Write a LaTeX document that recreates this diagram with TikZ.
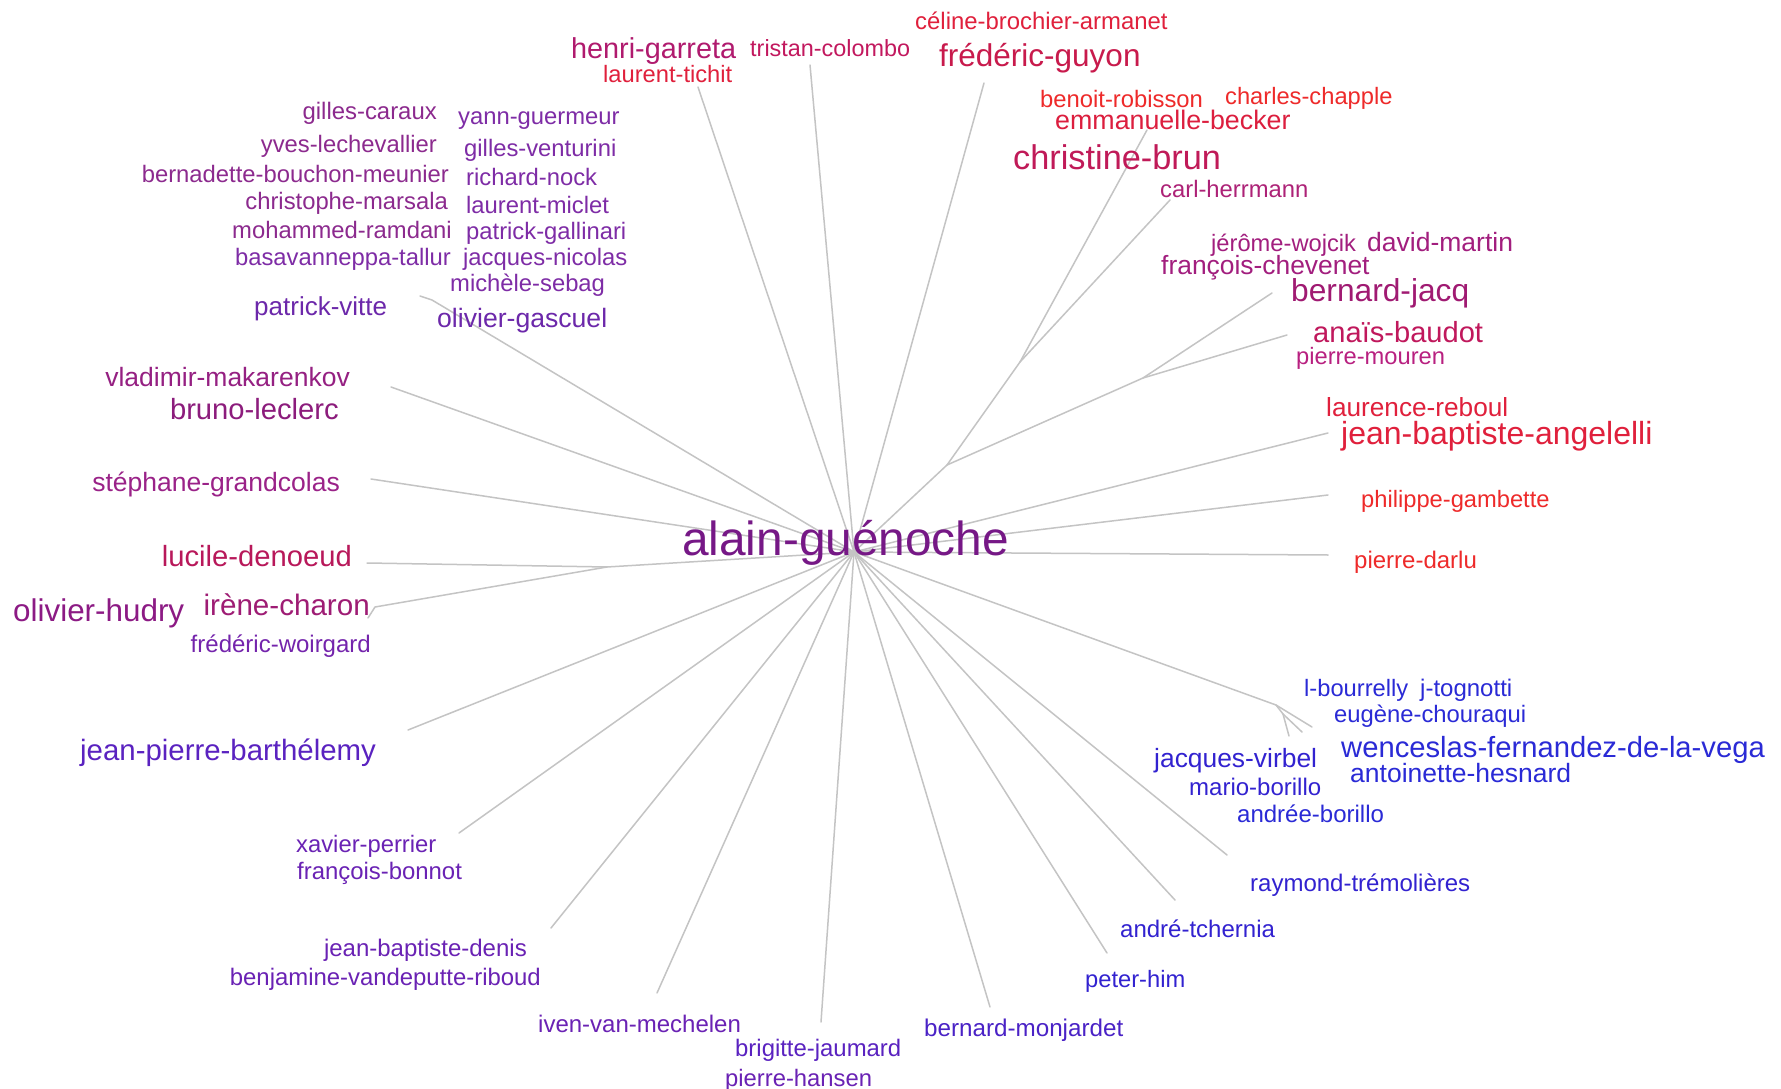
\documentclass[tikz,border=0pt]{standalone}
\usepackage{fontspec}
\setmainfont{Liberation Sans}
% label colours, from red (top right) through purple to blue (bottom right)
\definecolor{edgegray}{HTML}{C4C4C4}
\definecolor{cAlain}{HTML}{761886}
\definecolor{cGarreta}{HTML}{B01A6E}
\definecolor{cRed}{HTML}{E0203C}
\definecolor{cRedB}{HTML}{EE2A2A}
\definecolor{cTristan}{HTML}{C2185E}
\definecolor{cGuyon}{HTML}{C81A4C}
\definecolor{cBecker}{HTML}{DC1E3E}
\definecolor{cBrun}{HTML}{C01A58}
\definecolor{cHerrmann}{HTML}{AD2277}
\definecolor{cWojcik}{HTML}{A21E7E}
\definecolor{cJacq}{HTML}{A01A72}
\definecolor{cBaudot}{HTML}{C0185C}
\definecolor{cMouren}{HTML}{B82080}
\definecolor{cPurA}{HTML}{8C2A8E}
\definecolor{cPurB}{HTML}{7E2CA6}
\definecolor{cVitte}{HTML}{6C28AA}
\definecolor{cMak}{HTML}{952082}
\definecolor{cLeclerc}{HTML}{8C1C7C}
\definecolor{cGrand}{HTML}{9A2288}
\definecolor{cDenoeud}{HTML}{B8185A}
\definecolor{cHudry}{HTML}{8C1A84}
\definecolor{cCharon}{HTML}{9E1C74}
\definecolor{cWoirgard}{HTML}{7424AC}
\definecolor{cBarth}{HTML}{5A22C0}
\definecolor{cViolet}{HTML}{6A22B4}
\definecolor{cMonj}{HTML}{4A22C6}
\definecolor{cBlue}{HTML}{3222D0}
\definecolor{cBlueB}{HTML}{2A2AD6}
\begin{document}
\begin{tikzpicture}[x=1pt,y=-1pt,
  edge/.style={draw=edgegray, line width=1.5pt, line cap=round, line join=round},
  lab/.style n args={3}{font=\fontsize{#1}{#1}\selectfont, text=#2,
    anchor=base #3, yshift={-(0.26*#1pt+3pt)}, inner sep=0pt}]

\useasboundingbox[fill=white] (0,0) rectangle (1781,1089);

% ---------- tree: centre, inner junctions and leaf ends ----------
\coordinate (c) at (854,552);
% upper right sub-tree
\coordinate (j2) at (947,465);
\coordinate (j1) at (1020,362);
\coordinate (j3) at (1143,378);
\coordinate (e-becker) at (1147,130);
\coordinate (e-herrmann) at (1170,200);
\coordinate (e-jacq) at (1272,293);
\coordinate (e-baudot) at (1287,335);
% single branches, clockwise from the top
\coordinate (e-tichit) at (698,87);
\coordinate (e-colombo) at (810,65);
\coordinate (e-guyon) at (984,83);
\coordinate (e-angelelli) at (1328,433);
\coordinate (e-gambette) at (1328,495);
\coordinate (e-darlu) at (1328,555);
\coordinate (f) at (1276,705);
\coordinate (f2) at (1283,714);
\coordinate (e-f1) at (1312,727);
\coordinate (e-f2) at (1302,732);
\coordinate (e-f3) at (1289,736);
\coordinate (e-tremolieres) at (1227,855);
\coordinate (e-tchernia) at (1175,900);
\coordinate (e-him) at (1107,953);
\coordinate (e-monjardet) at (990,1007);
\coordinate (e-jaumard) at (821,1022);
\coordinate (e-mechelen) at (657,993);
\coordinate (e-denis) at (551,928);
\coordinate (e-perrier) at (459,833);
\coordinate (e-barthelemy) at (408,730);
\coordinate (j4) at (607,567);
\coordinate (e-denoeud) at (367,563);
\coordinate (e-charon) at (375,607);
\coordinate (e-charon2) at (368,618);
\coordinate (e-grandcolas) at (371,479);
\coordinate (e-makarenkov) at (391,387);
\coordinate (g) at (432,300);
\coordinate (e-gascuel) at (420,296);

\draw[edge] (c) -- (j2) -- (j1) -- (e-becker);
\draw[edge] (j1) -- (e-herrmann);
\draw[edge] (j2) -- (j3) -- (e-jacq);
\draw[edge] (j3) -- (e-baudot);
\foreach \e in {tichit,colombo,guyon,angelelli,gambette,darlu,tremolieres,
  tchernia,him,monjardet,jaumard,mechelen,denis,perrier,barthelemy,
  grandcolas,makarenkov}
  \draw[edge] (c) -- (e-\e);
\draw[edge] (c) -- (f) -- (e-f1);
\draw[edge] (f) -- (f2) -- (e-f2);
\draw[edge] (f2) -- (e-f3);
\draw[edge] (c) -- (j4) -- (e-denoeud);
\draw[edge] (j4) -- (e-charon) -- (e-charon2);
\draw[edge] (c) -- (g) -- (e-gascuel);

% ---------- labels ----------
\node[lab={47.8}{cAlain}{west}] (alain) at (682,540) {alain-guénoche};

% top and upper right
\node[lab={28.8}{cGarreta}{west}] (garreta) at (571,48) {henri-garreta};
\node[lab={23.7}{cRed}{west}] (tichit) at (603,73) {laurent-tichit};
\node[lab={23.4}{cTristan}{west}] (colombo) at (750,47) {tristan-colombo};
\node[lab={23.9}{cRed}{west}] (brochier) at (915,20) {céline-brochier-armanet};
\node[lab={31.5}{cGuyon}{west}] (guyon) at (939,55) {frédéric-guyon};
\node[lab={23.8}{cRedB}{west}] (robisson) at (1040,98) {benoit-robisson};
\node[lab={23.7}{cRedB}{west}] (chapple) at (1225,95) {charles-chapple};
\node[lab={26.8}{cBecker}{west}] (becker) at (1055,120) {emmanuelle-becker};
\node[lab={34.3}{cBrun}{west}] (brun) at (1013,158) {christine-brun};
\node[lab={23.8}{cHerrmann}{west}] (herrmann) at (1160,188) {carl-herrmann};
\node[lab={23.7}{cWojcik}{west}] (wojcik) at (1211,242) {jérôme-wojcik};
\node[lab={26.5}{cWojcik}{west}] (martin) at (1367,242) {david-martin};
\node[lab={26.4}{cWojcik}{west}] (chevenet) at (1161,265) {françois-chevenet};
\node[lab={31.7}{cJacq}{west}] (jacq) at (1291,290) {bernard-jacq};
\node[lab={29.1}{cBaudot}{west}] (baudot) at (1313,332) {anaïs-baudot};
\node[lab={23.7}{cMouren}{west}] (mouren) at (1296,355) {pierre-mouren};
\node[lab={26.2}{cRed}{west}] (reboul) at (1326,407) {laurence-reboul};
\node[lab={32}{cRed}{west}] (angelelli) at (1341,433) {jean-baptiste-angelelli};
\node[lab={23.7}{cRedB}{west}] (gambette) at (1361,498) {philippe-gambette};
\node[lab={24}{cRedB}{west}] (darlu) at (1354,559) {pierre-darlu};

% upper left cluster
\node[lab={23.9}{cPurA}{east}] (caraux) at (437,110) {gilles-caraux};
\node[lab={23.8}{cPurA}{east}] (lechevallier) at (437,143) {yves-lechevallier};
\node[lab={23.8}{cPurA}{east}] (bouchon) at (449,173) {bernadette-bouchon-meunier};
\node[lab={23.8}{cPurA}{east}] (marsala) at (448,200) {christophe-marsala};
\node[lab={23.8}{cPurA}{east}] (ramdani) at (452,229) {mohammed-ramdani};
\node[lab={23.8}{cPurB}{east}] (tallur) at (451,256) {basavanneppa-tallur};
\node[lab={23.8}{cPurB}{west}] (guermeur) at (458,115) {yann-guermeur};
\node[lab={23.8}{cPurB}{west}] (venturini) at (464,147) {gilles-venturini};
\node[lab={23.8}{cPurB}{west}] (nock) at (466,176) {richard-nock};
\node[lab={23.8}{cPurB}{west}] (miclet) at (466,204) {laurent-miclet};
\node[lab={23.8}{cPurB}{west}] (gallinari) at (466,230) {patrick-gallinari};
\node[lab={23.8}{cPurB}{west}] (nicolas) at (463,256) {jacques-nicolas};
\node[lab={23.8}{cPurB}{west}] (sebag) at (450,282) {michèle-sebag};
\node[lab={26}{cVitte}{west}] (vitte) at (254,306) {patrick-vitte};
\node[lab={26.6}{cVitte}{west}] (gascuel) at (437,318) {olivier-gascuel};

% left
\node[lab={26.5}{cMak}{east}] (makarenkov) at (350,377) {vladimir-makarenkov};
\node[lab={29.2}{cLeclerc}{east}] (leclerc) at (339,409) {bruno-leclerc};
\node[lab={26.5}{cGrand}{east}] (grandcolas) at (340,482) {stéphane-grandcolas};
\node[lab={29.2}{cDenoeud}{east}] (denoeud) at (352,556) {lucile-denoeud};
\node[lab={31.4}{cHudry}{west}] (hudry) at (13,610) {olivier-hudry};
\node[lab={29.6}{cCharon}{east}] (charon) at (370,605) {irène-charon};
\node[lab={24}{cWoirgard}{east}] (woirgard) at (371,643) {frédéric-woirgard};
\node[lab={29.4}{cBarth}{west}] (barthelemy) at (80,750) {jean-pierre-barthélemy};

% bottom
\node[lab={23.8}{cViolet}{west}] (perrier) at (296,843) {xavier-perrier};
\node[lab={23.9}{cViolet}{west}] (bonnot) at (297,870) {françois-bonnot};
\node[lab={24}{cViolet}{east}] (denis) at (527,947) {jean-baptiste-denis};
\node[lab={23.9}{cViolet}{east}] (vandeputte) at (541,976) {benjamine-vandeputte-riboud};
\node[lab={24}{cViolet}{west}] (mechelen) at (538,1023) {iven-van-mechelen};
\node[lab={23.9}{cBarth}{west}] (jaumard) at (735,1047) {brigitte-jaumard};
\node[lab={23.8}{cViolet}{west}] (hansen) at (725,1077) {pierre-hansen};
\node[lab={24.2}{cMonj}{west}] (monjardet) at (924,1027) {bernard-monjardet};
\node[lab={23.7}{cBlue}{west}] (him) at (1085,978) {peter-him};
\node[lab={24}{cBlue}{west}] (tchernia) at (1120,928) {andré-tchernia};
\node[lab={24}{cBlue}{west}] (tremolieres) at (1250,882) {raymond-trémolières};

% lower right cluster
\node[lab={23.7}{cBlueB}{west}] (bourrelly) at (1304,687) {l-bourrelly};
\node[lab={24}{cBlueB}{west}] (tognotti) at (1420,687) {j-tognotti};
\node[lab={23.8}{cBlueB}{west}] (chouraqui) at (1334,713) {eugène-chouraqui};
\node[lab={29.2}{cBlueB}{west}] (vega) at (1341,747) {wenceslas-fernandez-de-la-vega};
\node[lab={26.5}{cBlueB}{west}] (hesnard) at (1350,773) {antoinette-hesnard};
\node[lab={26.4}{cBlue}{west}] (virbel) at (1154,758) {jacques-virbel};
\node[lab={24}{cBlue}{west}] (mborillo) at (1189,786) {mario-borillo};
\node[lab={24}{cBlueB}{west}] (aborillo) at (1237,813) {andrée-borillo};
\end{tikzpicture}
\end{document}
